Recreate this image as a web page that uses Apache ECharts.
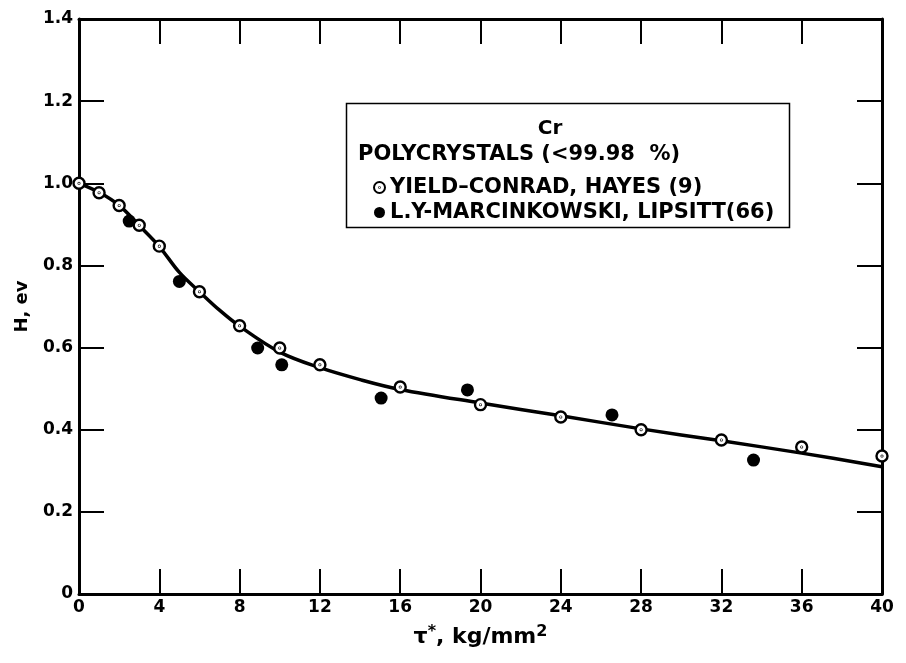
<!DOCTYPE html>
<html>
<head>
<meta charset="utf-8">
<script src="https://cdn.jsdelivr.net/npm/echarts@6/dist/echarts.min.js"></script>
<style>
  html, body { margin: 0; padding: 0; background: #fff; }
  #chart { width: 906px; height: 663px; }
</style>
</head>
<body>
<div id="chart"></div>
<script>
// Yield-Conrad, Hayes (9): activation enthalpy vs effective stress
var tauYield = [0, 1, 2, 3, 4, 6, 8, 10, 12, 16, 20, 24, 28, 32, 36, 40];
var hYield   = [1.0, 0.977, 0.946, 0.898, 0.847, 0.736, 0.653, 0.599, 0.558, 0.504, 0.461, 0.431, 0.400, 0.375, 0.358, 0.336];

// L.Y-Marcinkowski, Lipsitt (66)
var tauLY = [2.5, 5.0, 8.9, 10.1, 15.05, 19.35, 26.55, 33.6];
var hLY   = [0.908, 0.761, 0.599, 0.558, 0.477, 0.497, 0.436, 0.326];

// Smooth curve drawn through both data sets
var tauFit = [0, 1, 2, 3, 4, 5, 6, 7, 8, 10, 12, 14, 16, 20, 24, 28, 32, 36, 40];
var hFit   = [1.0, 0.978, 0.946, 0.897, 0.846, 0.783, 0.736, 0.691, 0.652, 0.589, 0.551, 0.522, 0.498, 0.465, 0.434, 0.402, 0.373, 0.343, 0.310];

var xTicks = [0, 4, 8, 12, 16, 20, 24, 28, 32, 36, 40];
var yTicks = [0, 0.2, 0.4, 0.6, 0.8, 1.0, 1.2, 1.4];

var legendTitle = 'Cr';
var legendSub = 'POLYCRYSTALS (<99.98  %)';
var nameYield = 'YIELD\u2013CONRAD, HAYES (9)';
var nameLY = 'L.Y-MARCINKOWSKI, LIPSITT(66)';

function zip(a, b) { return a.map(function (v, i) { return [v, b[i]]; }); }

var FONT = '"DejaVu Sans", "Liberation Sans", sans-serif';
var INK = '#000';

// ring with a centre dot
var ringSymbol = 'path://M50,0A50,50,0,1,1,50,100A50,50,0,1,1,50,0ZM50,47A3,3,0,1,1,50,53A3,3,0,1,1,50,47Z';

var chart = echarts.init(document.getElementById('chart'), null, { renderer: 'canvas' });

var tickFmtX = function (v) { return xTicks.indexOf(v) >= 0 ? String(v) : ''; };
var tickFmtY = function (v) {
  var r = Math.round(v * 10) / 10;
  return r === 0 ? '0' : r.toFixed(1);
};

function frameAxis(extra) {
  return Object.assign({
    axisLine: { show: true, onZero: false, lineStyle: { color: INK, width: 3 } },
    axisTick: { show: true, inside: true, length: 25, lineStyle: { color: INK, width: 2 } },
    splitLine: { show: false }
  }, extra);
}

chart.setOption({
  backgroundColor: '#fff',
  animation: false,
  grid: { left: 79, right: 24, top: 19, bottom: 69 },
  xAxis: [
    frameAxis({
      type: 'value', min: 0, max: 40, interval: 4, position: 'bottom',
      name: '\u03c4{sup|*}, kg/mm{sup|2}',
      nameLocation: 'middle', nameGap: 30,
      nameTextStyle: {
        color: INK, fontFamily: FONT, fontWeight: 'bold', fontSize: 22,
        rich: { sup: { fontSize: 16, fontWeight: 'bold', fontFamily: FONT, color: INK, verticalAlign: 'top', padding: [0, 0, 10, 0] } }
      },
      axisLabel: { formatter: tickFmtX, color: INK, fontFamily: FONT, fontWeight: 'bold', fontSize: 17, margin: 5 }
    }),
    frameAxis({
      type: 'value', min: 0, max: 40, interval: 4, position: 'top',
      axisLabel: { show: false }
    })
  ],
  yAxis: [
    frameAxis({
      type: 'value', min: 0, max: 1.4, interval: 0.2, position: 'left',
      name: 'H, ev', nameLocation: 'middle', nameGap: 48, nameRotate: 90,
      nameTextStyle: { color: INK, fontFamily: FONT, fontWeight: 'bold', fontSize: 18 },
      axisLabel: { formatter: tickFmtY, color: INK, fontFamily: FONT, fontWeight: 'bold', fontSize: 17, margin: 6 }
    }),
    frameAxis({
      type: 'value', min: 0, max: 1.4, interval: 0.2, position: 'right',
      axisLabel: { show: false }
    })
  ],
  legend: {
    orient: 'vertical',
    left: 368, top: 172,
    itemWidth: 11, itemHeight: 11, itemGap: 4,
    textStyle: { color: INK, fontFamily: FONT, fontWeight: 'bold', fontSize: 21 },
    data: [nameYield, nameLY]
  },
  graphic: [
    {
      type: 'rect', left: 344, top: 101, z: 1,
      shape: { width: 443, height: 124 },
      style: { fill: 'none', stroke: INK, lineWidth: 1.5 }
    },
    {
      type: 'text', x: 550, y: 129, z: 2,
      style: { text: legendTitle, fill: INK, font: 'bold 20px ' + FONT, textAlign: 'center', textVerticalAlign: 'middle' }
    },
    {
      type: 'text', x: 358, y: 155, z: 2,
      style: { text: legendSub, fill: INK, font: 'bold 21px ' + FONT, textAlign: 'left', textVerticalAlign: 'middle' }
    }
  ],
  series: [
    {
      name: 'fit', type: 'line', data: zip(tauFit, hFit), smooth: 0.35,
      showSymbol: false, silent: true, z: 1,
      lineStyle: { color: INK, width: 3.5 }
    },
    {
      name: nameLY, type: 'scatter', data: zip(tauLY, hLY),
      symbol: 'circle', symbolSize: 13, z: 3,
      itemStyle: { color: INK, opacity: 1 }
    },
    {
      name: nameYield, type: 'scatter', data: zip(tauYield, hYield),
      symbol: ringSymbol, symbolSize: 11, z: 4,
      itemStyle: { color: '#fff', borderColor: INK, borderWidth: 2.4, opacity: 1 }
    }
  ]
});
</script>
</body>
</html>
